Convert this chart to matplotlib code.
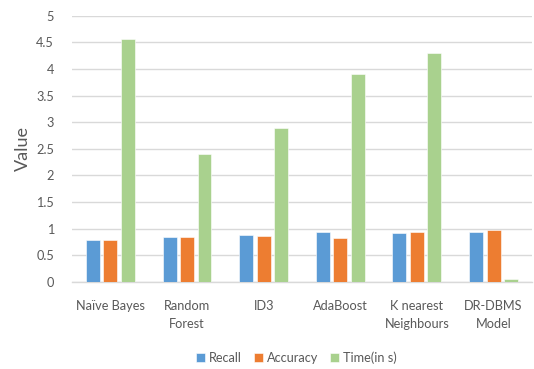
import matplotlib
matplotlib.use("Agg")
import matplotlib.pyplot as plt
import numpy as np

plt.rcParams['font.family'] = ['Lato', 'DejaVu Sans']

categories = ["Naïve Bayes", "Random\nForest", "ID3", "AdaBoost", "K nearest\nNeighbours", "DR-DBMS\nModel"]
recall = [0.78, 0.84, 0.88, 0.93, 0.91, 0.93]
accuracy = [0.78, 0.84, 0.86, 0.83, 0.93, 0.98]
time_s = [4.57, 2.4, 2.9, 3.9, 4.3, 0.06]
series_names = ["Recall", "Accuracy", "Time(in s)"]
colors = ["#5B9BD5", "#ED7D31", "#A9D18E"]
yticks = [0, 0.5, 1, 1.5, 2, 2.5, 3, 3.5, 4, 4.5, 5]

text_color = "#595959"
grid_color = "#D9D9D9"

fig = plt.figure(figsize=(5.34, 3.69), dpi=100)
ax = fig.add_axes([0.135, 0.236, 0.861, 0.721])

x = np.arange(len(categories))
width = 0.182
step = 0.228
for i, (vals, name, c) in enumerate(zip([recall, accuracy, time_s], series_names, colors)):
    ax.bar(x + (i - 1) * step, vals, width, color=c, label=name,
           edgecolor="white", linewidth=0.4, zorder=3)

ax.set_xlim(-0.5, len(categories) - 0.5)
ax.set_ylim(0, 5)
ax.set_yticks(yticks)
ax.set_yticklabels([f"{t:g}" for t in yticks])
ax.yaxis.grid(True, color=grid_color, linewidth=1.0, zorder=0)
ax.set_axisbelow(True)
for s in ["top", "right", "left"]:
    ax.spines[s].set_visible(False)
ax.spines["bottom"].set_color(grid_color)
ax.spines["bottom"].set_linewidth(1.0)

ax.set_xticks(x)
ax.set_xticklabels(categories, linespacing=1.6)
ax.tick_params(axis="both", length=0, labelsize=9.2, colors=text_color)
ax.tick_params(axis="x", pad=13)
ax.tick_params(axis="y", pad=13)
ax.set_ylabel("Value", fontsize=13, color=text_color, labelpad=4)

leg = fig.legend(loc="center", bbox_to_anchor=(0.555, 0.03), ncol=3, frameon=False,
                 fontsize=9.2, handlelength=0.75, handleheight=0.75, handletextpad=0.3,
                 columnspacing=0.9, labelcolor=text_color)

fig.savefig("out.png", dpi=100)
